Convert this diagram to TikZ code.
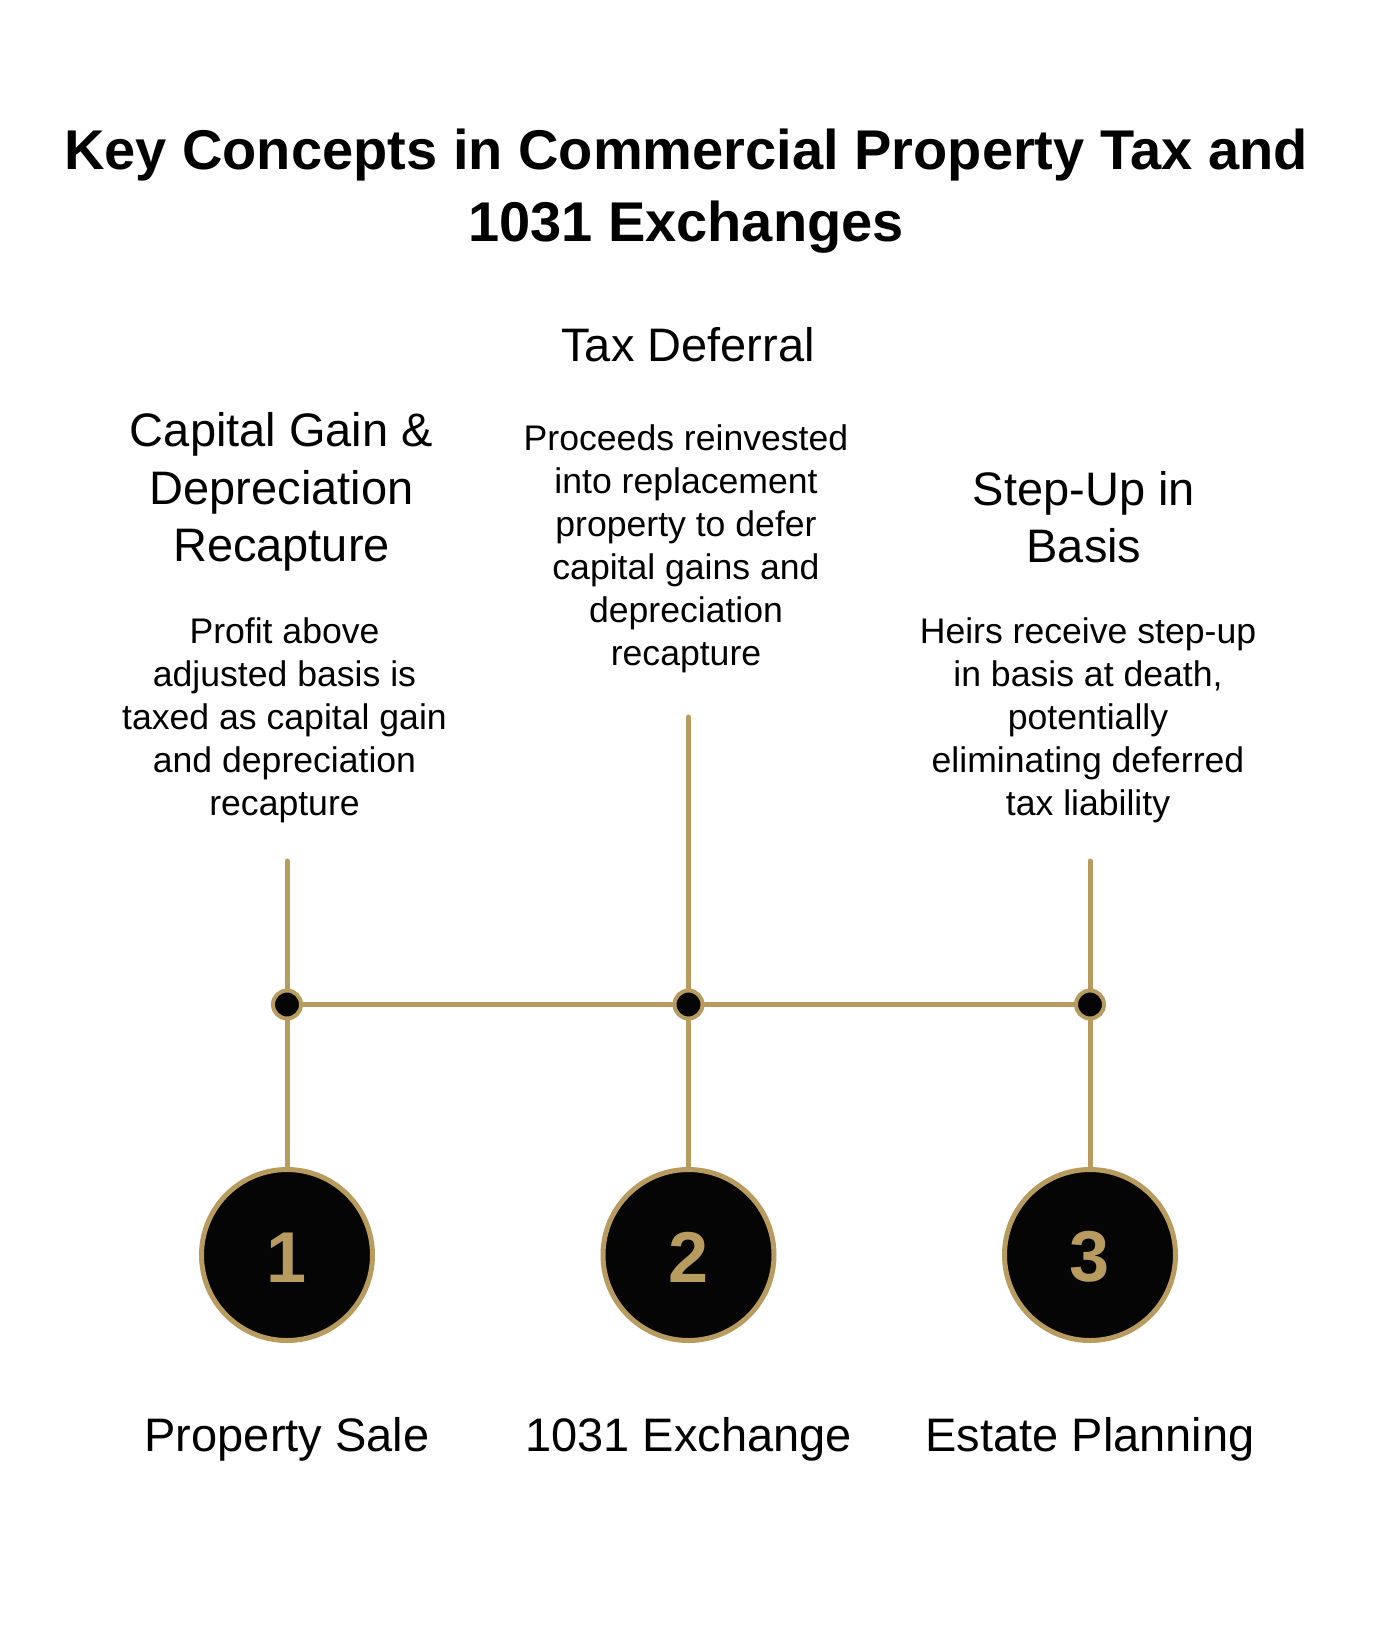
\documentclass[tikz,border=0pt]{standalone}
\usepackage{fontspec}
\setmainfont{Liberation Sans}
\definecolor{gold}{HTML}{B89B5E}
\definecolor{ink}{HTML}{050505}

\begin{document}
\begin{tikzpicture}[x=1pt,y=-1pt]
  \tikzset{TitleStyle/.style = {
    align      = center,
    text       = black,
    inner sep  = 0pt,
    font       = \fontsize{56}{72}\selectfont\bfseries
    }
  }
  \tikzset{HeadStyle/.style = {
    align      = center,
    text       = black,
    inner sep  = 0pt,
    font       = \fontsize{47}{57.4}\selectfont
    }
  }
  \tikzset{TextStyle/.style = {
    align      = center,
    text       = black,
    inner sep  = 0pt,
    font       = \fontsize{35.6}{43}\selectfont
    }
  }
  \tikzset{StepStyle/.style = {
    shape         = circle,
    draw          = gold,
    fill          = ink,
    line width    = 5pt,
    minimum size  = 171pt,
    inner sep     = 0pt,
    outer sep     = 0pt,
    text          = gold,
    text height   = 54pt,
    font          = \fontsize{72}{72}\selectfont\bfseries
    }
  }
  \tikzset{DotStyle/.style = {
    shape         = circle,
    draw          = gold,
    fill          = ink,
    line width    = 4pt,
    minimum size  = 28pt,
    inner sep     = 0pt,
    outer sep     = 2pt
    }
  }
  \tikzset{EdgeStyle/.style = {
    draw          = gold,
    line width    = 5pt,
    line cap      = round
    }
  }

  \useasboundingbox[fill=white] (0,0) rectangle (1377,1636);

  \node[TitleStyle](Title) at (686, 191) {Key Concepts in Commercial Property Tax and\\1031 Exchanges};

  \node[HeadStyle](H1) at (281.5, 492) {Capital Gain \&\\Depreciation\\Recapture};
  \node[HeadStyle](H2) at (688, 345) {Tax Deferral};
  \node[HeadStyle](H3) at (1084, 517) {Step-Up in\\Basis};

  \node[TextStyle](T1) at (284.5, 720) {Profit above\\adjusted basis is\\taxed as capital gain\\and depreciation\\recapture};
  \node[TextStyle](T2) at (686, 548.5) {Proceeds reinvested\\into replacement\\property to defer\\capital gains and\\depreciation\\recapture};
  \node[TextStyle](T3) at (1088, 720) {Heirs receive step-up\\in basis at death,\\potentially\\eliminating deferred\\tax liability};

  \coordinate (C1) at (287, 861);
  \coordinate (C2) at (688.5, 717);
  \coordinate (C3) at (1090, 861);

  \node[DotStyle](D1) at (287, 1004.5) {};
  \node[DotStyle](D2) at (688.5, 1004.5) {};
  \node[DotStyle](D3) at (1090, 1004.5) {};

  \node[StepStyle](S1) at (287, 1255) {1};
  \node[StepStyle](S2) at (688.5, 1255) {2};
  \node[StepStyle](S3) at (1090, 1255) {3};

  \node[HeadStyle](L1) at (287, 1439) {Property Sale};
  \node[HeadStyle](L2) at (688.5, 1439) {1031 Exchange};
  \node[HeadStyle](L3) at (1090, 1439) {Estate Planning};

  \draw[EdgeStyle](C1) -- (D1);
  \draw[EdgeStyle](C2) -- (D2);
  \draw[EdgeStyle](C3) -- (D3);
  \draw[EdgeStyle](D1) -- (D2);
  \draw[EdgeStyle](D2) -- (D3);
  \draw[EdgeStyle](D1) -- (S1);
  \draw[EdgeStyle](D2) -- (S2);
  \draw[EdgeStyle](D3) -- (S3);

\end{tikzpicture}
\end{document}
